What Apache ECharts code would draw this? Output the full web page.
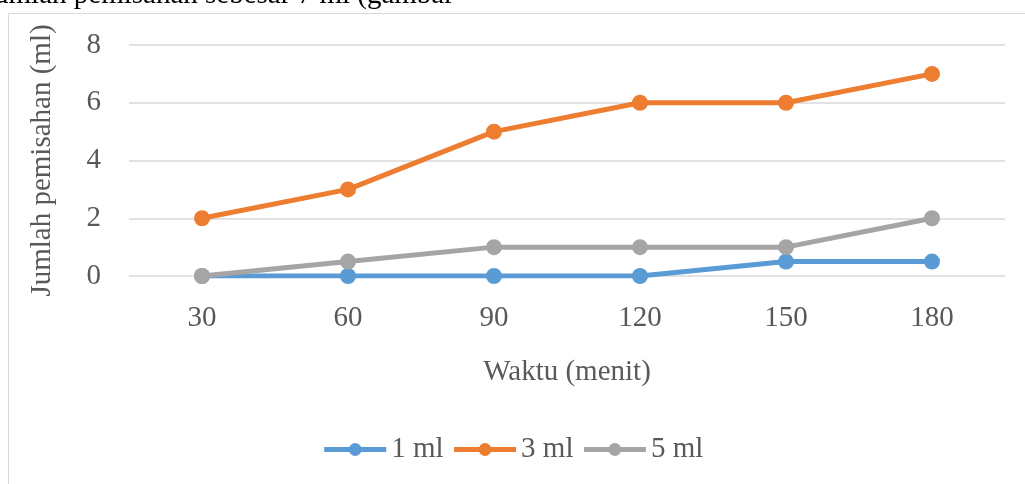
<!DOCTYPE html>
<html><head><meta charset="utf-8">
<script src="https://cdn.jsdelivr.net/npm/echarts@6/dist/echarts.min.js"></script>
<style>html,body{margin:0;padding:0;background:#fff}#c{width:1025px;height:484px}</style>
</head><body><div id="c"></div>
<script>
const categories = ['30', '60', '90', '120', '150', '180'];
const s1ml = [0, 0, 0, 0, 0.5, 0.5];
const s3ml = [2, 3, 5, 6, 6, 7];
const s5ml = [0, 0.5, 1, 1, 1, 2];
const seriesNames = ['1 ml', '3 ml', '5 ml'];
const colors = ['#5B9BD5', '#ED7D31', '#A5A5A5'];
const font = '"Liberation Serif", "Times New Roman", serif';
const chart = echarts.init(document.getElementById('c'));
function mk(name, data, color, z) {
  return { name, type: 'line', data, z, symbol: 'circle', symbolSize: 16,
    lineStyle: { width: 5, color }, itemStyle: { color }, animation: false };
}
chart.setOption({
  animation: false,
  textStyle: { fontFamily: font },
  graphic: [
    { type: 'rect', shape: { x: 8.5, y: 13.5, width: 1040, height: 500 },
      style: { fill: 'none', stroke: '#d9d9d9', lineWidth: 1 }, silent: true, z: -1 },
    { type: 'text', x: -14, y: 10,
      style: { text: 'jumlah pemisahan sebesar 7 ml (gambar', font: '29px ' + font, fill: '#000', textVerticalAlign: 'bottom' } }
  ],
  grid: { left: 129, right: 20, top: 45, bottom: 208 },
  legend: {
    top: 430, left: 'center', itemWidth: 62, itemHeight: 16, itemGap: 8,
    data: seriesNames,
    lineStyle: { width: 5 },
    textStyle: { fontFamily: font, fontSize: 29, color: '#595959' }
  },
  xAxis: {
    type: 'category', data: categories, boundaryGap: true,
    name: 'Waktu (menit)', nameLocation: 'middle', nameGap: 82,
    nameTextStyle: { fontFamily: font, fontSize: 29, color: '#595959' },
    axisLine: { show: false }, axisTick: { show: false },
    axisLabel: { fontFamily: font, fontSize: 29, color: '#595959', margin: 28 }
  },
  yAxis: {
    type: 'value', min: 0, max: 8, interval: 2,
    name: 'Jumlah pemisahan (ml)', nameLocation: 'middle', nameGap: 72,
    nameTextStyle: { fontFamily: font, fontSize: 29, color: '#595959' },
    axisLine: { show: false }, axisTick: { show: false },
    axisLabel: { fontFamily: font, fontSize: 29, color: '#595959', margin: 28 },
    splitLine: { lineStyle: { color: '#d9d9d9', width: 1.5 } }
  },
  series: [
    mk(seriesNames[0], s1ml, colors[0], 3),
    mk(seriesNames[1], s3ml, colors[1], 4),
    mk(seriesNames[2], s5ml, colors[2], 5)
  ]
});
</script></body></html>
